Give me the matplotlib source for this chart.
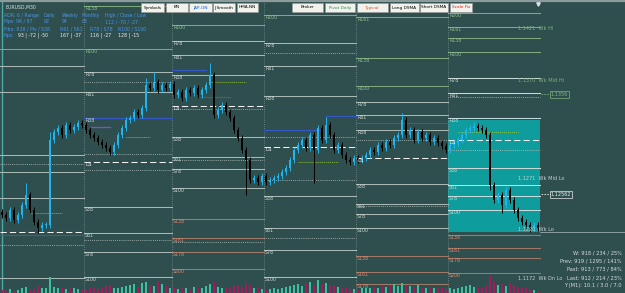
import matplotlib
matplotlib.use('Agg')
import matplotlib.pyplot as plt
from matplotlib.patches import Rectangle
from matplotlib.lines import Line2D

W, H = 625, 293
BG = '#2F4F4F'

# ---------------- data ----------------
symbol = 'EURUSD,M30'
close = [
    # day 0
    1.1235, 1.1232, 1.1240, 1.1230, 1.1235, 1.1245, 1.1255, 1.1240, 1.1228, 1.1222, 1.1225,
    1.1225, 1.1310, 1.1318, 1.1322, 1.1315, 1.1325, 1.1320, 1.1323, 1.1327, 1.1325,
    # day 1
    1.1320, 1.1315, 1.1312, 1.1308, 1.1305, 1.1302, 1.1298, 1.1305, 1.1315, 1.1322, 1.1330,
    1.1332, 1.1338, 1.1335, 1.1342, 1.1365, 1.1362, 1.1368, 1.1360, 1.1365, 1.1362, 1.1366,
    # day 2
    1.1355, 1.1358, 1.1352, 1.1360, 1.1357, 1.1362, 1.1355, 1.1360, 1.1365, 1.1375, 1.1335,
    1.1340, 1.1345, 1.1338, 1.1332, 1.1320, 1.1312, 1.1300, 1.1290, 1.1270, 1.1272, 1.1268, 1.1274,
    # day 3
    1.1268, 1.1270, 1.1272, 1.1274, 1.1278, 1.1282, 1.1290, 1.1300, 1.1305, 1.1310, 1.1302,
    1.1315, 1.1300, 1.1322, 1.1310, 1.1325, 1.1315, 1.1300, 1.1305, 1.1295, 1.1290, 1.1288, 1.1292,
    # day 4
    1.1290, 1.1292, 1.1295, 1.1300, 1.1298, 1.1305, 1.1302, 1.1308, 1.1305, 1.1312, 1.1315,
    1.1330, 1.1315, 1.1320, 1.1310, 1.1318, 1.1312, 1.1315, 1.1308, 1.1312, 1.1307, 1.1304, 1.1300,
    # day 5
    1.1305, 1.1307, 1.1310, 1.1315, 1.1320, 1.1322, 1.1324, 1.1322, 1.1320, 1.1315, 1.1265,
    1.1250, 1.1255, 1.1245, 1.1260, 1.1250, 1.1240, 1.1232, 1.1228, 1.1225, 1.1222, 1.1225, 1.1222,
]
first_open = 1.1238
high_override = {6: 1.1267, 12: 1.1318, 36: 1.1372, 38: 1.1378, 52: 1.1387,
                 81: 1.1333, 100: 1.1337, 118: 1.1328}
low_override = {9: 1.1217, 61: 1.1255, 78: 1.1267, 122: 1.1260, 125: 1.1237, 132: 1.1218}
default_wick = 0.0003

volume = [
    15, 10, 20, 12, 18, 25, 35, 20, 15, 40, 30, 25, 90, 35, 30, 25, 20, 30, 25, 20, 15,
    20, 25, 30, 20, 35, 40, 45, 30, 25, 35, 40, 45, 50, 35, 55, 60, 45, 40, 65, 50, 40, 30,
    25, 20, 30, 25, 20, 35, 30, 25, 40, 50, 60, 35, 30, 25, 30, 45, 40, 35, 50, 40, 30, 25, 20,
    15, 20, 25, 20, 30, 35, 40, 45, 50, 40, 55, 60, 45, 70, 50, 55, 45, 40, 35, 30, 25, 20, 20,
    20, 25, 30, 25, 35, 30, 40, 35, 45, 50, 40, 55, 45, 40, 35, 45, 30, 25, 35, 30, 25, 30, 20,
    25, 20, 30, 35, 40, 45, 35, 30, 25, 40, 95, 60, 45, 50, 40, 55, 45, 35, 30, 25, 20, 15, 10,
]

day_edges = [-3, 20.5, 42.5, 65.5, 88.5, 111.5, 134.5]

level_names = [
    ['R100', 'R78', 'R61', 'R38', 'S38', 'S61', 'D1', 'S100'],
    ['R138', 'R100', 'R78', 'R61', 'R38', 'D1', 'S38', 'S61', 'S78', 'S100'],
    ['R100', 'R78', 'R61', 'R38', 'D1', 'S38', 'S61', 'S78', 'S100', 'S138', 'S161', 'S178', 'S200'],
    ['R100', 'R78', 'R61', 'R38', 'D1', 'S38', 'S61', 'S78', 'S100'],
    ['R161', 'R138', 'R100', 'R78', 'R61', 'R38', 'D1', 'S38', 'S61', 'S78', 'S100', 'S138', 'S161', 'S178'],
    ['R200', 'R161', 'R138', 'R100', 'R78', 'R61', 'R38', 'D1', 'S38', 'S61', 'S78', 'S100',
     'S138', 'S161', 'S178', 'S200'],
]
level_prices = [
    [1.1401, 1.1384, 1.1358, 1.1295, 1.1278, 1.1252, 1.1218, 1.1172],
    [1.1444, 1.1401, 1.1378, 1.1358, 1.1332, 1.1288, 1.1243, 1.1217, 1.1198, 1.1173],
    [1.1425, 1.1409, 1.1395, 1.1375, 1.1344, 1.1313, 1.1293, 1.1281, 1.1262, 1.1231, 1.1212, 1.1198, 1.1181],
    [1.1435, 1.1407, 1.1384, 1.1354, 1.1303, 1.1254, 1.1222, 1.1200, 1.1173],
    [1.1433, 1.1392, 1.1364, 1.1348, 1.1335, 1.1320, 1.1292, 1.1266, 1.1246, 1.1236, 1.1222, 1.1194, 1.1178, 1.1166],
    [1.1437, 1.1423, 1.1412, 1.1398, 1.1372, 1.1357, 1.1332, 1.1310, 1.1282, 1.1265, 1.1254, 1.1240,
     1.1215, 1.1202, 1.1192, 1.1177],
]
dotted_day = [0, 0, 1, 1, 1, 1, 2, 2, 2, 3, 3, 3, 3, 4, 4, 5, 5]
dotted_price = [1.1286, 1.1205, 1.1368, 1.1296, 1.1280, 1.1210, 1.1341, 1.1290, 1.1208,
                1.1397, 1.1313, 1.1270, 1.1212, 1.1310, 1.1244, 1.1353, 1.1300]

blue_start = [-1, 20.5, 42.5, 49, 65.5, 81, 88.5]
blue_end = [20.5, 42.5, 51, 57, 80, 88.5, 111.5]
blue_price = [1.1215, 1.1332, 1.1380, 1.1353, 1.1320, 1.1334, 1.1327]
green_start = [7, 31, 52, 74, 114]
green_end = [15, 37, 61, 84, 129]
green_price = [1.1237, 1.1313, 1.1368, 1.1288, 1.1318]
purple_start = [22]
purple_end = [27]
purple_price = [1.1323]

box_top, box_bottom = 1.1330, 1.1218

wk_names = ['Wk Hi', 'Wk Mid Hi', 'Wk Mid Lo', 'Wk Lo', 'Wk Dn Lo']
wk_prices = [1.1421, 1.1370, 1.1271, 1.1220, 1.1172]
tag_values = ['1.1356', '1.12562']
tag_prices = [1.1356, 1.1256]

stats_lines = ['W: 918 / 234 / 25%', 'Prev: 919 / 1295 / 141%', 'Past: 913 / 773 / 84%',
               'Last: 912 / 214 / 23%', 'Y (M1): 10.1 / 3.0 / 7.0']

buttons = ['Symbols', 'BN', 'JAP-ON', 'J Smooth', 'HMA-NN', 'Broker', 'Pivot Daily',
           'Typical', 'Long DSMA', 'Short DSMA', 'Scale Fix']

info_head = ['ADR: 6 / Range', 'Daily', 'Weekly', 'Monthly', 'High / Close / Low']
info_pips1 = ['Pips: 96 / 87', '82', '94', '83', '112 / -70 / -27']
info_fibo = ['Fibo: R38 / Piv / S38', 'R61 / S61', 'R78 / S78', 'R100 / S100']
info_pips2 = ['93 | -72 | -50', '167 | -37', '116 | -27', '128 | -15']

# ---------------- layout / drawing ----------------
plt.rcParams['font.family'] = ['DejaVu Sans']
fig = plt.figure(figsize=(W / 100, H / 100), dpi=100, facecolor=BG)
ax = fig.add_axes([0, 0, 1, 1])
ax.set_facecolor(BG)
ax.set_xlim(-0.5, 155.75)
ax.set_ylim(1.1157, 1.1450)
for s in ax.spines.values():
    s.set_visible(False)
ax.set_xticks([])
ax.set_yticks([])

def fx(x):
    return x / W

def fy(y):
    return 1 - y / H

# cyan box of current day
ax.add_patch(Rectangle((day_edges[5], box_bottom), day_edges[6] - day_edges[5],
                       box_top - box_bottom, facecolor='#0F9C9C', edgecolor='none', zorder=1))

# day separators
for e in day_edges[1:-1]:
    ax.axvline(e, color='#8FA5A5', lw=0.5, ls=(0, (1, 2)), zorder=2)
ax.axvline(-0.1, color='#4FA8A8', lw=1.0, zorder=2)

# pivot levels
def lvl_num(n):
    try:
        return int(n[1:])
    except ValueError:
        return 0

for d, (names, prices) in enumerate(zip(level_names, level_prices)):
    x0 = max(day_edges[d], -0.5)
    x1 = day_edges[d + 1]
    for n, p in zip(names, prices):
        num = lvl_num(n)
        if n == 'D1':
            ax.plot([x0, x1], [p, p], color='#F0F0F0', lw=0.75, ls=(0, (6, 3)), zorder=3)
            tc = '#F0F0F0'
        elif n.startswith('S') and num >= 138:
            ax.plot([x0, x1], [p, p], color='#A07868', lw=0.75, zorder=3)
            tc = '#E08870'
        elif n.startswith('R') and num >= 100:
            ax.plot([x0, x1], [p, p], color='#7FA87F', lw=0.75, zorder=3)
            tc = '#8FC08F'
        else:
            col = '#C6DADA' if d == 5 else '#A8B8B4'
            ax.plot([x0, x1], [p, p], color=col, lw=0.75, zorder=3)
            tc = '#D0D8D4'
        if day_edges[d] >= 0:
            ax.text(day_edges[d] + 0.25, p - 0.00025, n, fontsize=3.4, color=tc,
                    va='center', ha='left', zorder=6)

for d, p in zip(dotted_day, dotted_price):
    ax.plot([max(day_edges[d], -0.5), day_edges[d + 1]], [p, p], color='#C8D0CC',
            lw=0.55, ls=(0, (1, 1.5)), zorder=3)

for a, b, p in zip(blue_start, blue_end, blue_price):
    ax.plot([a, b], [p, p], color='#3558C8', lw=0.75, zorder=3)
for a, b, p in zip(green_start, green_end, green_price):
    ax.plot([a, b], [p, p], color='#9ACD32', lw=0.65, ls=(0, (1, 1.2)), zorder=3)
for a, b, p in zip(purple_start, purple_end, purple_price):
    ax.plot([a, b], [p, p], color='#9A40D0', lw=0.9, zorder=3)

# candles
prev = first_open
for i, c in enumerate(close):
    o = prev
    hi = high_override.get(i, max(o, c) + default_wick)
    lo = low_override.get(i, min(o, c) - default_wick)
    up = c >= o
    col = '#22B4EC' if up else '#000000'
    ax.vlines(i, lo, hi, color=col, lw=0.7, zorder=5)
    body = max(abs(c - o), 0.00008)
    ax.bar(i, body, bottom=min(o, c), width=0.6, color=col, zorder=5, linewidth=0)
    prev = c

# weekly level labels and tags
tag_x = 137.2
for n, p in zip(wk_names, wk_prices):
    col = '#7FB07F' if 'Hi' in n else '#C8D0D0'
    ax.text(129, p, f'{p:.4f}  {n}', fontsize=3.6, color=col, va='center', ha='left', zorder=7)
ax.plot([day_edges[6], 155.75], [wk_prices[3] - 0.0002, wk_prices[3] - 0.0002],
        color='#9AAAAA', lw=0.6, zorder=3)
for k, (t, p) in enumerate(zip(tag_values, tag_prices)):
    col = '#7FB07F' if k == 0 else '#E8E8E8'
    ax.plot([day_edges[6] + 0.2, tag_x - 0.3], [p, p], color=col, lw=0.6, ls=(0, (2, 1.5)), zorder=6)
    ax.text(tag_x, p, t, fontsize=3.6, color=col, va='center', ha='left', zorder=7,
            bbox=dict(boxstyle='square,pad=0.2', fc='none', ec=col, lw=0.5))

# volume
vax = fig.add_axes([0, 0, 1, 0.062])
vax.set_xlim(ax.get_xlim())
vax.set_ylim(0, 100)
vax.axis('off')
vax.patch.set_alpha(0)
prev = first_open
for i, (c, v) in enumerate(zip(close, volume)):
    vcol = '#3CC0A0' if c >= prev else '#A8185E'
    vax.bar(i, v, width=0.55, color=vcol, linewidth=0)
    prev = c

# top gray edge and time marker
fig.add_artist(Line2D([0, 1], [fy(0.8), fy(0.8)], color='#8C9C9C', lw=1.6))
ax.plot([134.0], [1.14465], marker='v', color='#E0E0E0', markersize=2.5, zorder=8)

# stats text bottom right
for k, s in enumerate(stats_lines):
    fig.text(fx(622), fy(253 + 8.2 * k), s, fontsize=3.7, color='#D8DCDC', ha='right', va='center')

# info panel
fs_info = 3.3
fig.text(fx(5), fy(7), symbol, fontsize=fs_info, color='#D8E0E0', va='center')
blue = '#4A94E8'
xs = [4, 44, 62, 82, 105]
for x, t in zip(xs, info_head):
    fig.text(fx(x), fy(16), t, fontsize=fs_info, color=blue, va='center')
for x, t in zip(xs, info_pips1):
    fig.text(fx(x), fy(21.5), t, fontsize=fs_info, color=blue, va='center')
xs2 = [4, 60, 90, 118]
for x, t in zip(xs2, info_fibo):
    fig.text(fx(x), fy(29), t, fontsize=fs_info, color=blue, va='center')
fig.text(fx(4), fy(35), 'Pips:', fontsize=fs_info, color=blue, va='center')
for x, t in zip([18, 60, 90, 118], info_pips2):
    fig.text(fx(x), fy(35), t, fontsize=fs_info, color='#F0F0F0', va='center')

# buttons
btn_left = [141, 166, 189, 213, 237, 292, 325, 357, 390, 420, 450]
btn_right = [164, 188, 212, 235, 258, 323, 355, 388, 419, 448, 472]
btn_color = ['#000000', '#000000', '#1060D0', '#000000', '#000000', '#000000', '#2E8B57',
             '#E05030', '#000000', '#000000', '#E02020']
for t, a, b, c in zip(buttons, btn_left, btn_right, btn_color):
    fig.add_artist(Rectangle((fx(a), fy(12)), fx(b - a), 9 / H, facecolor='#F2F2EC',
                             edgecolor='#9A9A9A', lw=0.4))
    fig.text(fx((a + b) / 2), fy(7.5), t, fontsize=3.1, color=c, ha='center', va='center')

fig.savefig('out.png', dpi=100, facecolor=BG)
